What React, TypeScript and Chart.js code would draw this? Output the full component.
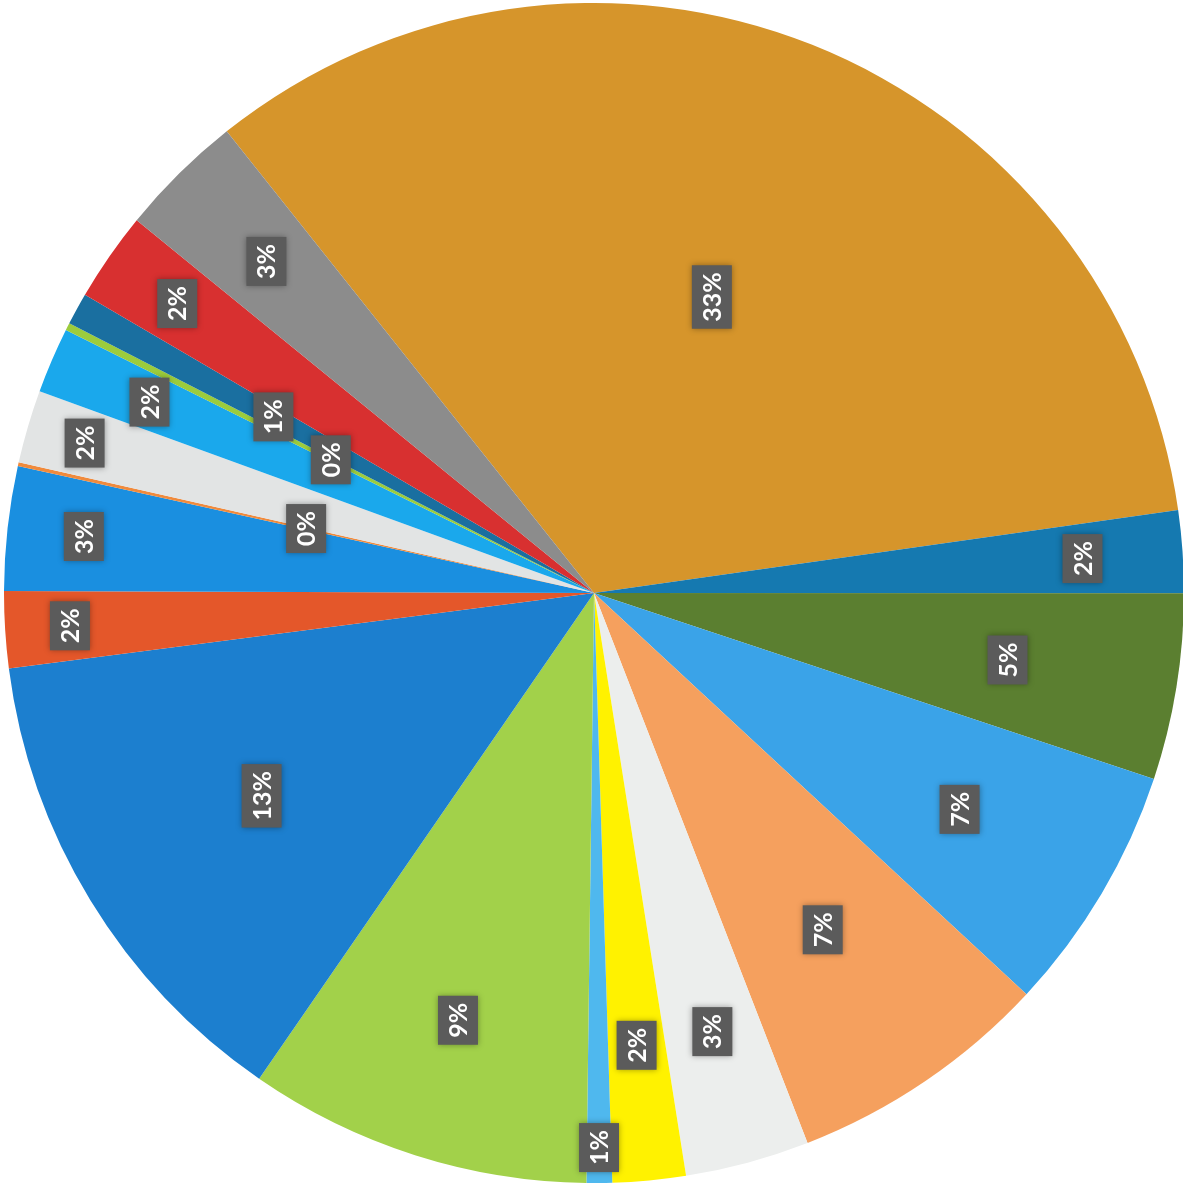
import React, { useEffect, useRef } from "react";
import { Chart, registerables } from "chart.js";

Chart.register(...registerables);

// Slices, clockwise starting at the big orange slice (values in percent)
const categories = [
  "A", "B", "C", "D", "E", "F", "G", "H", "I", "J",
  "K", "L", "M", "N", "O", "P", "Q", "R", "S",
];
const values = [
  33.45, 2.25, 5.1, 6.8, 7.2, 3.4, 2.0, 0.7, 9.4, 13.35,
  2.1, 3.4, 0.1, 2.0, 1.8, 0.2, 0.88, 2.45, 3.42,
];
const colors = [
  "#d6952b", "#1579b0", "#5b7f30", "#3aa3e8", "#f5a05e", "#eceeed", "#fff200",
  "#4fb8ee", "#a2d14a", "#1c7fcf", "#e4572a", "#1a8fe0", "#f08a3c", "#e2e4e4",
  "#1aa8ec", "#9ccc3c", "#1a6fa0", "#d83030", "#8c8c8c",
];
// label distance from centre as a fraction of the radius
const labelRadius = [
  0.54, 0.83, 0.71, 0.72, 0.69, 0.77, 0.77, 0.94, 0.76, 0.66,
  0.89, 0.87, 0.5, 0.9, 0.82, 0.5, 0.62, 0.86, 0.79,
];

const labelPlugin = {
  id: "rotLabels",
  afterDatasetsDraw(chart: any) {
    const ctx = chart.ctx;
    const meta = chart.getDatasetMeta(0);
    const data = chart.data.datasets[0].data as number[];
    const total = data.reduce((a: number, b: number) => a + b, 0);
    meta.data.forEach((arc: any, i: number) => {
      const { x, y, startAngle, endAngle, outerRadius } = arc.getProps(
        ["x", "y", "startAngle", "endAngle", "outerRadius"],
        true
      );
      const mid = (startAngle + endAngle) / 2;
      const r = outerRadius * labelRadius[i];
      const px = x + Math.cos(mid) * r;
      const py = y + Math.sin(mid) * r;
      const text = Math.round((data[i] / total) * 100) + "%";
      ctx.save();
      ctx.translate(px, py);
      ctx.rotate(-Math.PI / 2);
      ctx.font = "bold 25px Lato, 'Open Sans', sans-serif";
      const w = ctx.measureText(text).width + 14;
      const h = 40;
      ctx.shadowColor = "rgba(0,0,0,0.35)";
      ctx.shadowBlur = 6;
      ctx.fillStyle = "#5b5b5b";
      ctx.fillRect(-w / 2, -h / 2, w, h);
      ctx.shadowBlur = 0;
      ctx.fillStyle = "#ffffff";
      ctx.textAlign = "center";
      ctx.textBaseline = "middle";
      ctx.fillText(text, 0, 1);
      ctx.restore();
    });
  },
};

export default function App() {
  const ref = useRef<HTMLCanvasElement | null>(null);
  useEffect(() => {
    if (!ref.current) return;
    const chart = new Chart(ref.current, {
      type: "pie",
      data: {
        labels: categories,
        datasets: [
          {
            data: values,
            backgroundColor: colors,
            borderWidth: 0,
          },
        ],
      },
      options: {
        animation: false,
        responsive: false,
        rotation: -38.5,
        layout: { padding: 0 },
        plugins: {
          legend: { display: false },
          tooltip: { enabled: false },
        },
      },
      plugins: [labelPlugin],
    });
    return () => chart.destroy();
  }, []);
  return (
    <div
      style={{
        position: "fixed",
        left: 0,
        top: 0,
        width: 1183,
        height: 1186,
        background: "#ffffff",
      }}
    >
      <canvas
        ref={ref}
        width={1180}
        height={1180}
        style={{ position: "absolute", left: 4, top: 3 }}
      />
    </div>
  );
}
